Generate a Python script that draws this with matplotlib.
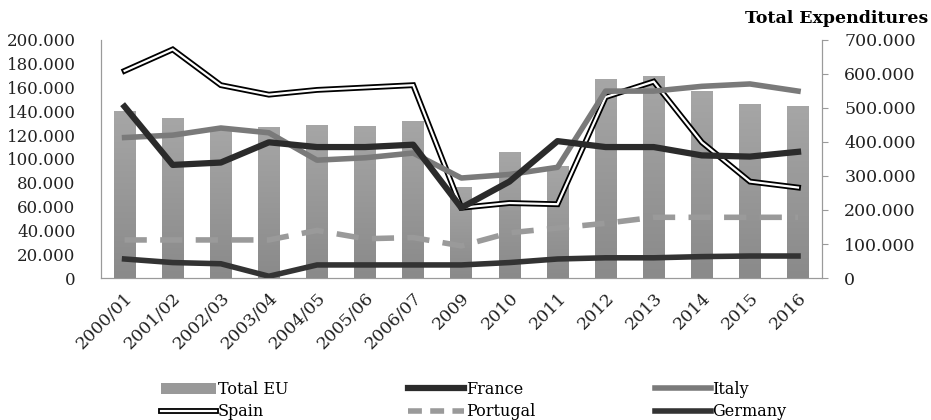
import numpy as np
import matplotlib.pyplot as plt
from matplotlib.lines import Line2D
from matplotlib.patches import Patch
import matplotlib.transforms as mtransforms
from matplotlib.colors import LinearSegmentedColormap

plt.rcParams['font.family'] = ['DejaVu Serif']

years = ['2000/01', '2001/02', '2002/03', '2003/04', '2004/05', '2005/06', '2006/07',
         '2009', '2010', '2011', '2012', '2013', '2014', '2015', '2016']

# right axis
total_eu = [490000, 469000, 436000, 443000, 451000, 448000, 463000,
            268000, 370000, 330000, 584000, 593000, 550000, 512000, 506000]

# left axis
spain = [174000, 192000, 162000, 154000, 158000, 160000, 162000,
         59000, 63000, 62000, 152000, 165000, 114000, 81000, 76000]
france = [144000, 95000, 97000, 114000, 110000, 110000, 112000,
          59000, 81000, 115000, 110000, 110000, 103000, 102000, 106000]
italy = [118000, 120000, 126000, 122000, 99000, 101000, 105000,
         84000, 87000, 93000, 157000, 157000, 161000, 163000, 157000]
portugal = [32000, 32000, 32000, 32000, 40000, 33000, 34000,
            27000, 38000, 42000, 46000, 51000, 51000, 51000, 51000]
germany = [16000, 13000, 12000, 1500, 11000, 11000, 11000,
           11000, 13000, 16000, 17000, 17000, 18000, 18500, 18500]

x = np.arange(len(years))

fig = plt.figure(figsize=(9.31, 4.2), dpi=100)
ax = fig.add_axes([0.108, 0.338, 0.775, 0.567])
axr = ax.twinx()

# bars behind, lines in front
ax.set_zorder(axr.get_zorder() + 1)
ax.patch.set_visible(False)

bars = axr.bar(x, total_eu, width=0.45, color='none')
axr.set_ylim(0, 700000)
axr.set_xlim(-0.5, len(years) - 0.5)
# grey fill fading slightly lighter towards the top of each bar
grad = LinearSegmentedColormap.from_list('g', ['#8a8a8a', '#a6a6a6'])
for b in bars:
    x0, y0 = b.get_x(), b.get_y()
    im = axr.imshow(np.linspace(0, 1, 64).reshape(-1, 1), cmap=grad, origin='lower',
                    extent=[x0, x0 + b.get_width(), y0, y0 + b.get_height()],
                    aspect='auto', interpolation='bilinear')
    im.set_clip_path(b)
axr.set_yticks(np.arange(0, 700001, 100000))
axr.set_yticklabels(['0'] + [f'{v // 1000}.000' for v in range(100000, 700001, 100000)])

ax.plot(x, spain, color='black', lw=4.2, solid_joinstyle='miter')
ax.plot(x, spain, color='white', lw=1.6, solid_joinstyle='miter')
ax.plot(x, italy, color='#7a7a7a', lw=4)
ax.plot(x, france, color='#2b2b2b', lw=4.5)
ax.plot(x, portugal, color='#9a9a9a', lw=4, dashes=(4, 2.4))
ax.plot(x, germany, color='#333333', lw=4)

ax.set_xlim(-0.5, len(years) - 0.5)
ax.set_ylim(0, 200000)
ax.set_yticks(np.arange(0, 200001, 20000))
ax.set_yticklabels(['0'] + [f'{v // 1000}.000' for v in range(20000, 200001, 20000)])
ax.set_xticks(x)
ax.set_xticklabels(years, rotation=45, ha='right', rotation_mode='anchor')
shift = mtransforms.ScaledTranslation(15 / 100, 0, fig.dpi_scale_trans)
for lbl in ax.get_xticklabels():
    lbl.set_transform(lbl.get_transform() + shift)

for a in (ax, axr):
    a.spines['top'].set_visible(False)
    for s in ('left', 'right', 'bottom'):
        a.spines[s].set_color('#9a9a9a')
    a.tick_params(labelsize=12.5, colors='#222222')
ax.tick_params(axis='y', length=0, pad=18, labelsize=12)
ax.tick_params(axis='x', length=0, pad=8)
axr.tick_params(axis='y', length=4, color='#9a9a9a', pad=12)

fig.text(0.997, 0.955, 'Total Expenditures', ha='right', va='center',
         fontsize=12.5, fontweight='bold')

h_total = Patch(facecolor='#999999')
h_spain = (Line2D([], [], color='black', lw=4.2), Line2D([], [], color='white', lw=1.6))
h_france = Line2D([], [], color='#2b2b2b', lw=4.5)
h_port = Line2D([], [], color='#9a9a9a', lw=4, dashes=(2.5, 1.5))
h_italy = Line2D([], [], color='#7a7a7a', lw=4)
h_germ = Line2D([], [], color='#333333', lw=4)

fig.legend([h_total, h_spain, h_france, h_port, h_italy, h_germ],
           ['Total EU', 'Spain', 'France', 'Portugal', 'Italy', 'Germany'],
           ncol=3, loc='lower left', bbox_to_anchor=(0.157, -0.035), frameon=False,
           fontsize=11.5, handlelength=3.5, handletextpad=0.1, columnspacing=7.5,
           labelspacing=0.35)

fig.savefig('out.png', dpi=100)
